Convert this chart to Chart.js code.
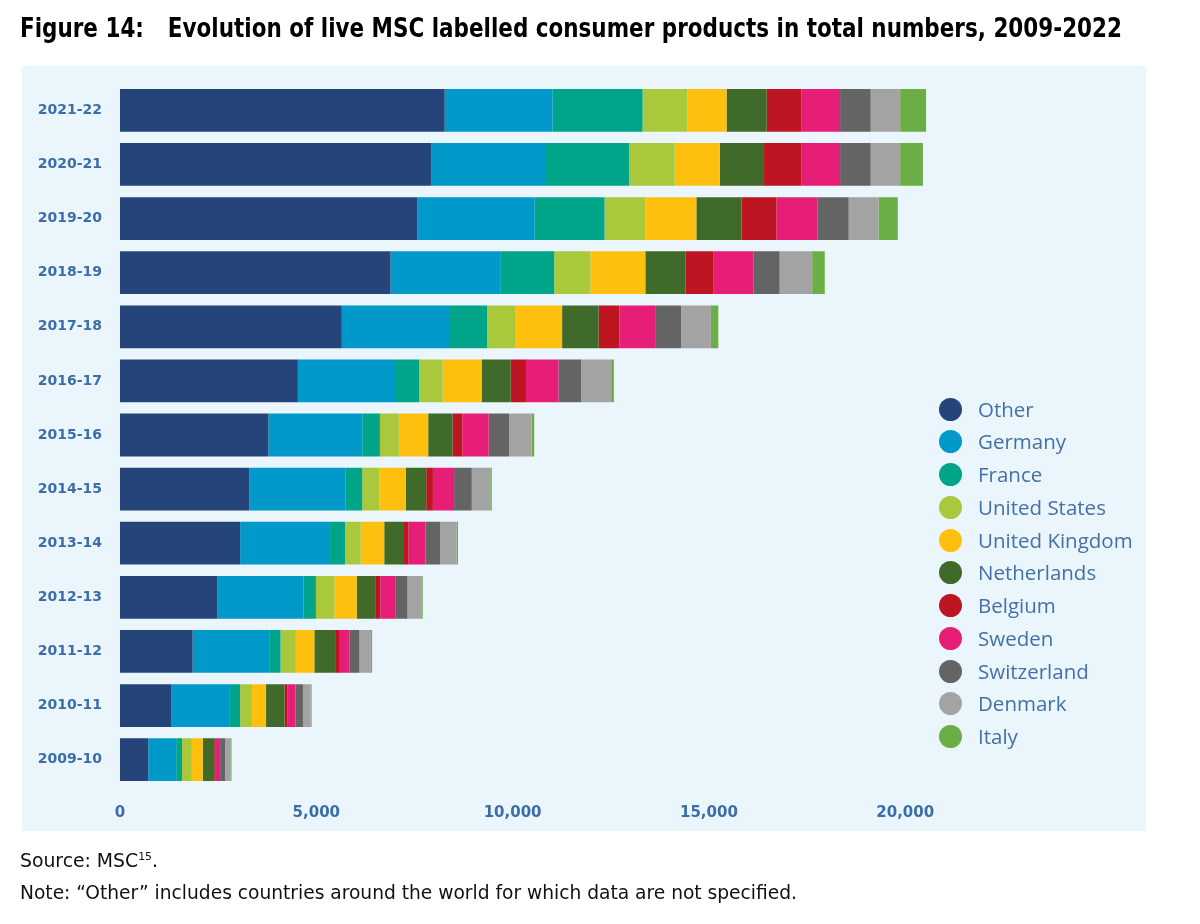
<!DOCTYPE html>
<html>
<head>
<meta charset="utf-8">
<script src="https://cdn.jsdelivr.net/npm/chart.js@4.4.1/dist/chart.umd.min.js"></script>
<style>
html,body{margin:0;padding:0;background:#fff;width:1200px;height:924px;overflow:hidden;}
#panel{position:absolute;left:22px;top:66px;width:1124px;height:765px;background:#ebf6fc;}
#wrap{position:absolute;left:0;top:0;width:1200px;height:924px;}
.fit{position:absolute;white-space:pre;transform-origin:0 0;line-height:1;}
#title{left:20px;top:15px;font-weight:bold;font-size:26px;font-family:"Liberation Sans Narrow","DejaVu Sans Condensed","Liberation Sans",sans-serif;color:#000;}
#title .gap{display:inline-block;width:26px;}
#source{left:20px;top:851px;font-size:19px;font-family:"Liberation Sans Narrow","DejaVu Sans Condensed","Liberation Sans",sans-serif;color:#111;}
#source sup{font-size:11px;vertical-align:7px;line-height:0;}
#note{left:20px;top:883px;font-size:19px;font-family:"Liberation Sans Narrow","DejaVu Sans Condensed","Liberation Sans",sans-serif;color:#111;}
#legend{position:absolute;left:939px;top:0;}
.li{position:absolute;left:0;height:24px;white-space:nowrap;}
.dot{position:absolute;left:0;top:0;width:23px;height:23px;border-radius:50%;}
.lt{position:absolute;left:39px;top:0;font-family:"Open Sans",sans-serif;font-size:20.5px;line-height:23px;color:#4470a6;}
</style>
</head>
<body>
<div id="panel"></div>
<div id="wrap"><canvas id="c" width="1200" height="924"></canvas></div>
<div id="title" class="fit">Figure 14:<span class="gap"></span>Evolution of live MSC labelled consumer products in total numbers, 2009-2022</div>
<div id="source" class="fit">Source: MSC<sup>15</sup>.</div>
<div id="note" class="fit">Note: “Other” includes countries around the world for which data are not specified.</div>
<div id="legend"></div>
<script>
// ---- DATA ----
const categories = ['2021-22','2020-21','2019-20','2018-19','2017-18','2016-17','2015-16','2014-15','2013-14','2012-13','2011-12','2010-11','2009-10'];
const seriesNames = ['Other','Germany','France','United States','United Kingdom','Netherlands','Belgium','Sweden','Switzerland','Denmark','Italy'];
const seriesColors = ['#25447a','#0099c9','#00a489','#a9c83b','#fdc00f','#406a2a','#be1522','#e61e78','#646464','#a3a3a3','#6aae45'];

const other        = [8270,7920,7570,6890,5650,4530,3780,3290,3060,2480,1850,1300,720];
const germany      = [2750,2930,2990,2810,2730,2500,2390,2460,2290,2190,1950,1480,710];
const france       = [2290,2120,1780,1360, 970, 590, 450, 420, 380, 320, 290, 280,150];
const unitedStates = [1140,1160,1040, 920, 710, 600, 480, 430, 400, 470, 390, 300,250];
const unitedKingdom= [1000,1150,1300,1400,1200, 990, 750, 680, 600, 570, 470, 360,280];
const netherlands  = [1020,1100,1150,1020, 930, 740, 620, 520, 480, 470, 550, 470,290];
const belgium      = [ 890, 980, 890, 720, 530, 390, 250, 170, 140, 130, 100,  80, 40];
const sweden       = [ 980, 980,1040,1020, 910, 830, 670, 540, 430, 380, 240, 200,110];
const switzerland  = [ 780, 780, 800, 660, 660, 580, 520, 450, 370, 310, 260, 190,130];
const denmark      = [ 750, 750, 760, 830, 760, 760, 570, 470, 420, 370, 290, 200,130];
const italy        = [ 660, 580, 490, 320, 190,  70,  70,  40,  40,  20,  30,  20, 30];

const seriesValues = [other,germany,france,unitedStates,unitedKingdom,netherlands,belgium,sweden,switzerland,denmark,italy];
const tickValues = [0,5000,10000,15000,20000];

// ---- CHART ----
const datasets = seriesNames.map((name,i)=>({
  label:name,
  data:seriesValues[i],
  backgroundColor:seriesColors[i],
  borderWidth:0,
  barPercentage:0.79,
  categoryPercentage:1.0
}));

const tickColor = '#3b6ea8';
const chart = new Chart(document.getElementById('c'),{
  type:'bar',
  data:{labels:categories,datasets:datasets},
  options:{
    indexAxis:'y',
    responsive:false,
    animation:false,
    devicePixelRatio:1,
    layout:{padding:{left:22,right:255.5,top:83.2,bottom:97.2}},
    plugins:{legend:{display:false},tooltip:{enabled:false},title:{display:false}},
    scales:{
      x:{
        stacked:true,min:0,max:21000,
        grid:{display:false,drawTicks:false},
        border:{display:false},
        afterBuildTicks:(s)=>{s.ticks=tickValues.map(v=>({value:v}));},
        afterFit:(s)=>{s.height=40;},
        ticks:{
          padding:17,color:tickColor,
          font:{family:'"DejaVu Sans"',weight:'bold',size:15},
          callback:(v)=>Number(v).toLocaleString('en-US')
        }
      },
      y:{
        stacked:true,
        grid:{display:false,drawTicks:false},
        border:{display:false},
        afterFit:(s)=>{s.width=98;},
        ticks:{
          padding:18,color:tickColor,
          font:{family:'"DejaVu Sans"',weight:'bold',size:14}
        }
      }
    }
  }
});

// ---- LEGEND (HTML, from the series arrays) ----
const lg = document.getElementById('legend');
seriesNames.forEach((name,i)=>{
  const d=document.createElement('div');d.className='li';
  d.style.top=(409-11.5+i*32.77)+'px';
  d.innerHTML='<span class="dot" style="background:'+seriesColors[i]+'"></span><span class="lt">'+name+'</span>';
  lg.appendChild(d);
});

// ---- fit text widths ----
function fit(id,target){
  const el=document.getElementById(id);
  el.style.transform='none';
  const w=el.getBoundingClientRect().width;
  el.style.transform='scaleX('+(target/w)+')';
}
function fitAll(){fit('title',1102);fit('source',138);fit('note',777);}
fitAll();
if(document.fonts&&document.fonts.ready){document.fonts.ready.then(fitAll);}
</script>
</body>
</html>
